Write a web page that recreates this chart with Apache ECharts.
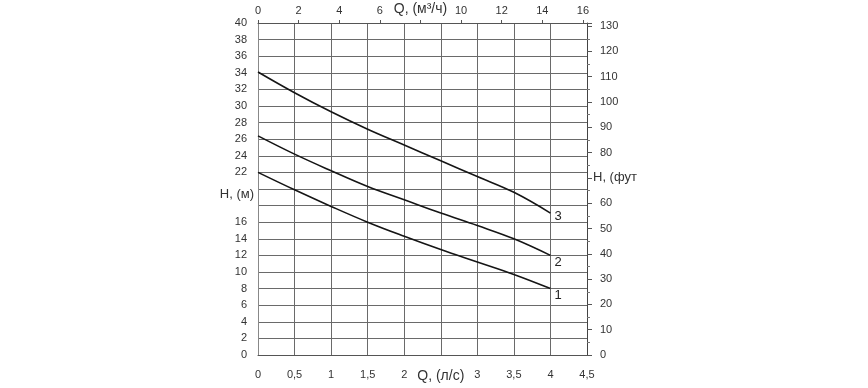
<!DOCTYPE html>
<html>
<head>
<meta charset="utf-8">
<script src="https://cdn.jsdelivr.net/npm/echarts@6/dist/echarts.min.js"></script>
<style>
html,body{margin:0;padding:0;background:#fff;}
#chart{width:868px;height:388px;}
</style>
</head>
<body>
<div id="chart"></div>
<script>
// Flow in l/s (bottom axis)
const qLs = [0, 0.5, 1, 1.5, 2, 2.5, 3, 3.5, 4];
// Head in metres for the three curves
const h1 = [22, 19.9, 17.9, 16.0, 14.3, 12.7, 11.2, 9.7, 8.0];
const h2 = [26.4, 24.2, 22.2, 20.3, 18.7, 17.1, 15.6, 14.0, 12.0];
const h3 = [34.1, 31.6, 29.3, 27.2, 25.3, 23.4, 21.5, 19.6, 17.1];
const curveNames = ['1', '2', '3'];

// Axis titles placed among tick labels
const bottomTitle = 'Q, (л/с)';   // at 2.5 l/s
const topTitle = 'Q, (м³/ч)';     // at 8 m3/h
const leftTitle = 'H, (м)';       // at 20 m
const rightTitle = 'H, (фут';     // at 70 ft

const FONT = "'Liberation Sans', Arial, sans-serif";
const GRID = '#6a6a6a';

const chart = echarts.init(document.getElementById('chart'));

function mkSeries(name, ys, off) {
  return {
    type: 'line', name: name, xAxisIndex: 0, yAxisIndex: 0,
    data: qLs.map((x, i) => [x, ys[i]]),
    smooth: 0.4, symbol: 'none',
    lineStyle: {color: '#151515', width: 1.6},
    endLabel: {show: true, formatter: name, offset: off, distance: 4,
      color: '#222', fontSize: 13, fontFamily: FONT},
    z: 5
  };
}

chart.setOption({
  animation: false,
  backgroundColor: '#fff',
  grid: {left: 258, right: 281, top: 23, bottom: 33, containLabel: false},
  xAxis: [
    {
      type: 'value', position: 'bottom', min: 0, max: 4.5, interval: 0.5,
      axisLine: {show: true, onZero: false, lineStyle: {color: '#555', width: 1}},
      axisTick: {show: false},
      splitLine: {show: true, lineStyle: {color: GRID, width: 1}},
      axisLabel: {
        margin: 14, color: '#333', fontSize: 11, fontFamily: FONT,
        showMaxLabel: true, showMinLabel: true,
        formatter: v => Math.abs(v - 2.5) < 1e-6 ? '{t|' + bottomTitle + '}' : String(v).replace('.', ','),
        rich: {t: {fontSize: 14, color: '#333', fontFamily: FONT, padding: [0, 0, 3, 0]}}
      }
    },
    {
      type: 'value', position: 'top', min: 0, max: 16.2, interval: 2,
      axisLine: {show: true, onZero: false, lineStyle: {color: '#555', width: 1}},
      axisTick: {show: true, inside: false, length: 3, lineStyle: {color: '#555'}},
      splitLine: {show: false},
      axisLabel: {
        margin: 7, color: '#333', fontSize: 11, fontFamily: FONT,
        showMaxLabel: false,
        formatter: v => v === 8 ? '{t|' + topTitle + '}' : String(v),
        rich: {t: {fontSize: 14, color: '#333', fontFamily: FONT, padding: [0, 0, 0, 0]}}
      }
    }
  ],
  yAxis: [
    {
      type: 'value', position: 'left', min: 0, max: 40, interval: 2,
      axisLine: {show: true, onZero: false, lineStyle: {color: '#888', width: 1}},
      axisTick: {show: false},
      splitLine: {show: true, lineStyle: {color: GRID, width: 1}},
      axisLabel: {
        margin: 11, color: '#333', fontSize: 11, fontFamily: FONT,
        formatter: v => v === 20 ? '{t|' + leftTitle + '}' : (v === 18 ? '' : String(v)),
        rich: {t: {fontSize: 13, color: '#333', fontFamily: FONT, padding: [10, -7, 0, 0]}}
      }
    },
    {
      type: 'value', position: 'right', min: 0, max: 40 / 0.3048, interval: 10,
      axisLine: {show: true, onZero: false, lineStyle: {color: '#444', width: 1}},
      axisTick: {show: true, inside: false, length: 5, lineStyle: {color: '#555'}},
      minorTick: {show: true, splitNumber: 2, length: 3, lineStyle: {color: '#777'}},
      splitLine: {show: false},
      axisLabel: {
        margin: 13, color: '#333', fontSize: 11, fontFamily: FONT,
        showMaxLabel: false,
        formatter: v => v === 70 ? '{t|' + rightTitle + '}' : String(v),
        rich: {t: {fontSize: 13, color: '#333', fontFamily: FONT, padding: [0, 0, 0, -7]}}
      }
    }
  ],
  series: [
    mkSeries(curveNames[0], h1, [0, 7]),
    mkSeries(curveNames[1], h2, [0, 7]),
    mkSeries(curveNames[2], h3, [0, 3])
  ]
});
</script>
</body>
</html>
